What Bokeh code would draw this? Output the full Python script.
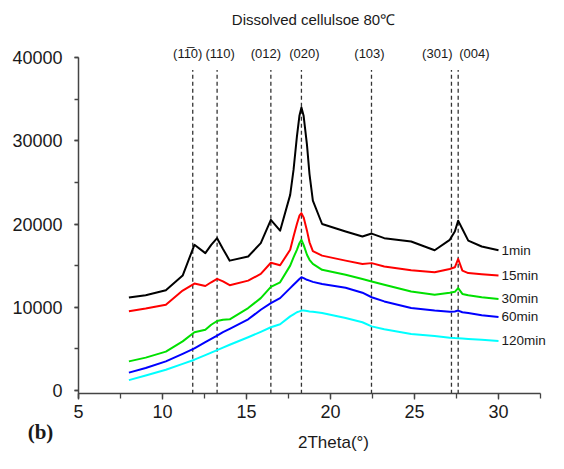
from bokeh.plotting import figure
from bokeh.models import Label, LabelSet, ColumnDataSource, SingleIntervalTicker
from bokeh.core.properties import value
from bokeh.embed import file_html
from bokeh.resources import INLINE

# ---- data ----
two_theta = [8, 9, 10.2, 11.2, 11.9, 12.55, 12.9, 13.25, 13.6, 14.0, 15.1, 15.85, 16.45, 17.0, 17.6,
             17.8, 18.0, 18.15, 18.27, 18.4, 18.6, 18.75, 18.95, 19.5, 20.9, 21.9, 22.45, 23.2,
             24.8, 26.2, 27.1, 27.4, 27.6, 27.85, 28.2, 29.0, 30.0]
int_1min = [11160, 11450, 12050, 13800, 17500, 16500, 17500, 18300, 17000, 15600, 16100, 17700, 20500,
            19200, 23500, 26500, 30500, 33000, 34000, 33000, 29500, 26000, 22800, 20000, 19100,
            18500, 18850, 18300, 17900, 16850, 18100, 19100, 20400, 19400, 18000, 17300, 16850]
int_15min = [9530, 9850, 10300, 12000, 12850, 12550, 13000, 13400, 13100, 12650, 13200, 14000, 15350,
             15050, 16900, 18500, 20000, 21000, 21300, 20800, 19200, 17800, 16750, 16200, 15600,
             15200, 15300, 14900, 14450, 14200, 14600, 14800, 15800, 14400, 14100, 13950, 13800]
int_30min = [3500, 3950, 4670, 5900, 7000, 7300, 7900, 8350, 8500, 8550, 9900, 11100, 12450,
             13000, 15000, 16000, 16900, 17700, 18100, 17500, 16300, 15700, 15200, 14500, 13900,
             13400, 13100, 12700, 11900, 11500, 11750, 11850, 12300, 11600, 11450, 11200, 11000]
int_60min = [2150, 2700, 3500, 4400, 5050, 5800, 6200, 6600, 7000, 7400, 8550, 9700, 10500,
             11100, 12300, 12700, 13100, 13400, 13600, 13500, 13300, 13200, 13050, 12800, 12350,
             11750, 11200, 10700, 9900, 9600, 9450, 9500, 9600, 9400, 9300, 9050, 8830]
int_120min = [1250, 1800, 2500, 3200, 3700, 4250, 4550, 4850, 5150, 5500, 6400, 7050, 7600,
              7950, 8900, 9150, 9400, 9500, 9600, 9600, 9550, 9500, 9450, 9300, 8700,
              8200, 7700, 7350, 6800, 6550, 6350, 6300, 6280, 6250, 6200, 6100, 5950]
series_names = ["1min", "15min", "30min", "60min", "120min"]
series_colors = ["#000000", "#ff0000", "#00e000", "#0000ff", "#00ffff"]

peak_pos = [11.8, 13.25, 16.45, 18.27, 22.44, 27.2, 27.6]
peak_labels = ["(11\u03050)", "(110)", "(012)", "(020)", "(103)", "(301)", "(004)"]

x_ticks_interval = 5
y_ticks_interval = 10000
x_axis_start, x_axis_end = 5, 32.5
y_axis_start, y_axis_end = -400, 40000

# ---- layout / style (pixel layout of the canvas) ----
W, H = 548, 453
X5_PX, PX_PER_X = 78, 16.8          # canvas x of 2theta=5, pixels per degree
Y0_PX, PX_PER_K = 390, 8.325        # canvas y of intensity 0, pixels per 1000 counts
x_lo = x_axis_start - X5_PX / PX_PER_X
x_hi = x_axis_start + (W - X5_PX) / PX_PER_X
y_hi = Y0_PX / PX_PER_K * 1000
y_lo = -(H - Y0_PX) / PX_PER_K * 1000

LABEL_Y = 40450
LINE_TOP = 38500
Y_AXIS_OVERHANG = -1000
peak_offsets = [-5, 3, -5, 3, -2, 1, 1]
peak_aligns = ["center", "center", "center", "center", "center", "right", "left"]
FONT = "Liberation Sans"
TXT = "#1a1a1a"
AX = "#444444"

p = figure(width=W, height=H, output_backend="svg", toolbar_location=None,
           x_range=(x_lo, x_hi), y_range=(y_lo, y_hi), min_border=0,
           min_border_left=0, min_border_right=0, min_border_top=0, min_border_bottom=0)
p.outline_line_color = None
p.grid.visible = False
p.background_fill_color = "white"
p.border_fill_color = "white"

p.xaxis.fixed_location = y_axis_start
p.yaxis.fixed_location = x_axis_start
p.xaxis.ticker = SingleIntervalTicker(interval=x_ticks_interval, num_minor_ticks=2)
p.yaxis.ticker = SingleIntervalTicker(interval=y_ticks_interval, num_minor_ticks=2)
p.xaxis.bounds = (x_axis_start, x_axis_end)
p.yaxis.bounds = (Y_AXIS_OVERHANG, y_axis_end)
for ax in (p.xaxis, p.yaxis):
    ax.axis_line_color = AX
    ax.axis_line_width = 1.5
    ax.major_tick_line_color = AX
    ax.minor_tick_line_color = AX
    ax.major_tick_line_width = 1.3
    ax.minor_tick_line_width = 1.3
    ax.major_tick_in = 0
    ax.minor_tick_in = 0
    ax.major_label_text_font = FONT
    ax.major_label_text_font_size = "18px"
    ax.major_label_text_color = TXT
p.xaxis.major_tick_out = 6
p.xaxis.minor_tick_out = 5
p.xaxis.major_label_standoff = 5
p.yaxis.major_tick_out = 4
p.yaxis.minor_tick_out = 4
p.yaxis.major_label_standoff = 12

# dashed reference lines
p.segment(x0=peak_pos, y0=[y_axis_start] * len(peak_pos), x1=peak_pos, y1=[LINE_TOP] * len(peak_pos),
          line_color="#333333", line_width=1.3, line_dash="4 3")

series = [int_1min, int_15min, int_30min, int_60min, int_120min]
for ys, c in zip(series, series_colors):
    p.line(two_theta, ys, line_color=c, line_width=2, line_join="round")

# peak labels
psrc = ColumnDataSource(dict(x=peak_pos, y=[LABEL_Y] * len(peak_pos), t=peak_labels,
                             off=peak_offsets, al=peak_aligns))
p.add_layout(LabelSet(x="x", y="y", text="t", source=psrc, x_offset="off", text_align="al",
                      text_baseline="middle", text_font=value(FONT), text_font_size="13px",
                      text_color=TXT))

# series end labels
esrc = ColumnDataSource(dict(x=[two_theta[-1]] * len(series), y=[s[-1] for s in series],
                             t=series_names))
p.add_layout(LabelSet(x="x", y="y", text="t", source=esrc, x_offset=3, text_align="left",
                      text_baseline="middle", text_font=value(FONT), text_font_size="13.5px",
                      text_color=TXT))

# title, axis label, panel letter (screen units: from the canvas' lower-left corner)
p.add_layout(Label(x=313, y=H - 19, x_units="screen", y_units="screen",
                   text="Dissolved cellulsoe 80\u2103", text_align="center", text_baseline="middle",
                   text_font=FONT, text_font_size="15px", text_color=TXT))
p.add_layout(Label(x=333, y=H - 442, x_units="screen", y_units="screen",
                   text="2Theta(\u00b0)", text_align="center", text_baseline="middle",
                   text_font=FONT, text_font_size="17px", text_color=TXT))
p.add_layout(Label(x=40, y=H - 431, x_units="screen", y_units="screen",
                   text="(b)", text_align="center", text_baseline="middle",
                   text_font="Liberation Serif", text_font_style="bold", text_font_size="21px",
                   text_color=TXT))

open("out.html", "w").write(file_html(p, INLINE))
